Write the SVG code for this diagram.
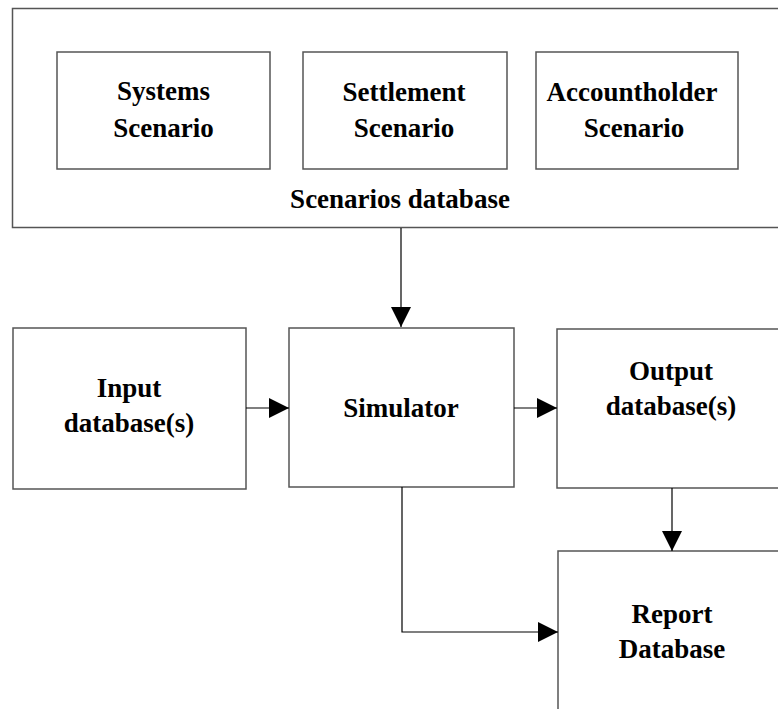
<svg xmlns="http://www.w3.org/2000/svg" width="778" height="709" viewBox="0 0 778 709">
<style>
.box{fill:#fff;stroke:#555;stroke-width:1.5}
.t{font-family:"Liberation Serif","Times New Roman",serif;font-weight:bold;font-size:27px;fill:#000;text-anchor:middle}
.c{fill:none;stroke:#000;stroke-width:1.2}
</style>
<defs>
<marker id="ah" markerUnits="userSpaceOnUse" markerWidth="20" markerHeight="20" viewBox="0 0 20 20" refX="20" refY="10" orient="auto">
<path d="M0,0 L20,10 L0,20 Z" fill="#000"/>
</marker>
</defs>
<g id="scenarios-db">
<rect class="box" x="12.5" y="8.5" width="800" height="219"/>
<text class="t" x="400" y="208">Scenarios database</text>
</g>
<g id="systems">
<rect class="box" x="57" y="52" width="213" height="117"/>
<text class="t" x="163.5" y="100">Systems</text>
<text class="t" x="163.5" y="137">Scenario</text>
</g>
<g id="settlement">
<rect class="box" x="303" y="52" width="204" height="117"/>
<text class="t" x="404" y="101">Settlement</text>
<text class="t" x="404" y="137">Scenario</text>
</g>
<g id="accountholder">
<rect class="box" x="536" y="52" width="202" height="117"/>
<text class="t" x="632" y="101">Accountholder</text>
<text class="t" x="634" y="137">Scenario</text>
</g>
<g id="input">
<rect class="box" x="13" y="328" width="233" height="161"/>
<text class="t" x="129" y="397">Input</text>
<text class="t" x="129" y="432">database(s)</text>
</g>
<g id="simulator">
<rect class="box" x="289" y="328" width="225" height="159"/>
<text class="t" x="401" y="417">Simulator</text>
</g>
<g id="output">
<rect class="box" x="557" y="329" width="240" height="159"/>
<text class="t" x="671" y="380">Output</text>
<text class="t" x="671" y="415">database(s)</text>
</g>
<g id="report">
<rect class="box" x="558" y="551" width="240" height="180"/>
<text class="t" x="672" y="623">Report</text>
<text class="t" x="672" y="658">Database</text>
</g>
<g id="connectors">
<path class="c" d="M401,228 V327" marker-end="url(#ah)"/>
<path class="c" d="M246,408 H289" marker-end="url(#ah)"/>
<path class="c" d="M514,408 H557" marker-end="url(#ah)"/>
<path class="c" d="M672,488 V551" marker-end="url(#ah)"/>
<path class="c" d="M402,487 V632 H558" marker-end="url(#ah)"/>
</g>
</svg>
